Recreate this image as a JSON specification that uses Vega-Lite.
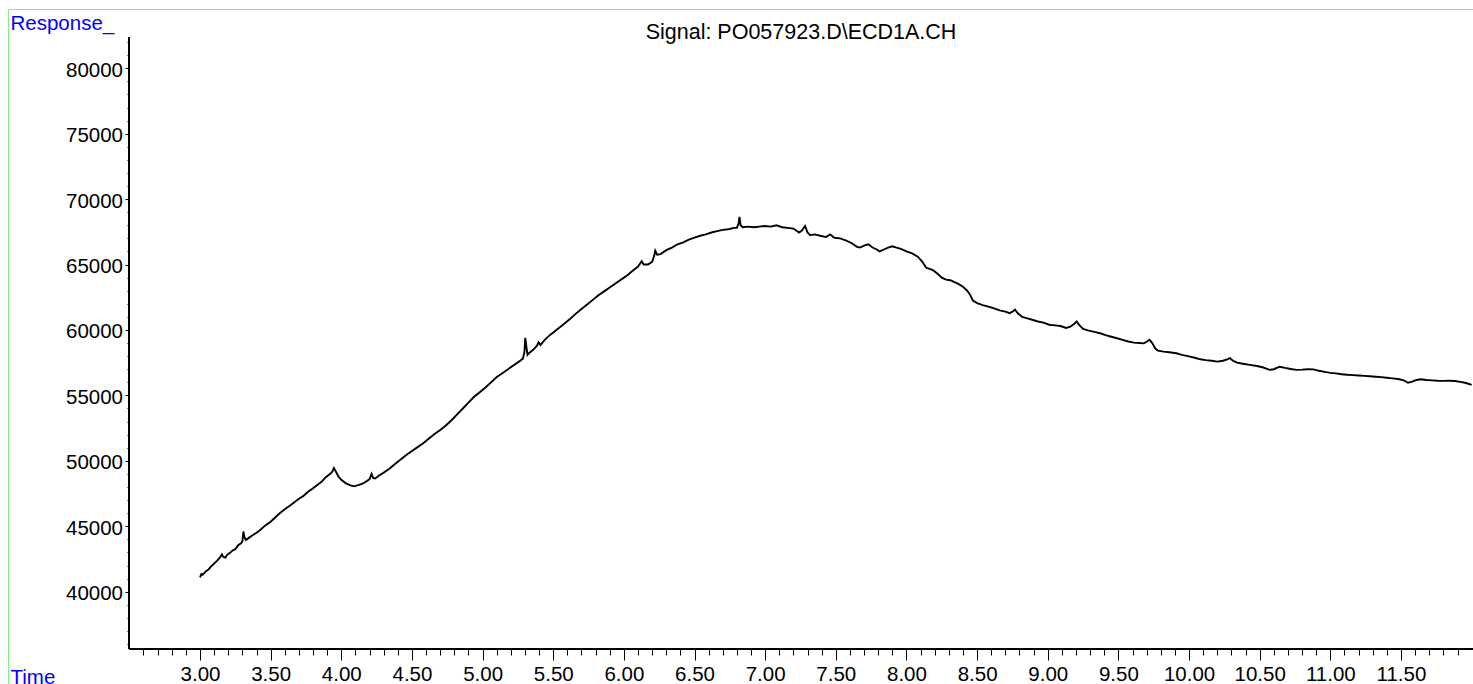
{
  "$schema": "https://vega.github.io/schema/vega-lite/v6.json",
  "width": 1465,
  "height": 675,
  "autosize": {"type": "none"},
  "padding": {"left": 8, "top": 9, "right": 0, "bottom": 0},
  "background": "white",
  "config": {
    "font": "Liberation Sans",
    "view": {"stroke": "#80ee80", "strokeWidth": 1}
  },
  "title": {
    "text": "Signal: PO057923.D\\ECD1A.CH",
    "fontSize": 21.5,
    "fontWeight": "normal",
    "color": "black",
    "anchor": "middle",
    "baseline": "alphabetic",
    "offset": -27,
    "dx": 60.5,
    "dy": 24
  },
  "data": {
    "values": [
      {"t":3.00,"r":41100},{"t":3.01,"r":41350},{"t":3.02,"r":41300},{"t":3.04,"r":41550},{"t":3.06,"r":41700},{"t":3.08,"r":41950},{"t":3.10,"r":42150},{"t":3.12,"r":42350},{"t":3.14,"r":42600},{"t":3.155,"r":42850},{"t":3.165,"r":42650},{"t":3.18,"r":42600},{"t":3.19,"r":42800},{"t":3.21,"r":42950},{"t":3.23,"r":43150},{"t":3.25,"r":43250},{"t":3.27,"r":43550},{"t":3.29,"r":43700},{"t":3.30,"r":43850},{"t":3.307,"r":44600},{"t":3.315,"r":44150},{"t":3.325,"r":43950},{"t":3.35,"r":44150},{"t":3.37,"r":44300},{"t":3.40,"r":44500},{"t":3.43,"r":44750},{"t":3.46,"r":45050},{"t":3.50,"r":45350},{"t":3.53,"r":45650},{"t":3.56,"r":45950},{"t":3.60,"r":46300},{"t":3.64,"r":46600},{"t":3.67,"r":46850},{"t":3.70,"r":47100},{"t":3.73,"r":47300},{"t":3.76,"r":47600},{"t":3.80,"r":47900},{"t":3.83,"r":48150},{"t":3.86,"r":48400},{"t":3.89,"r":48750},{"t":3.92,"r":49000},{"t":3.935,"r":49150},{"t":3.948,"r":49450},{"t":3.96,"r":49200},{"t":3.98,"r":48800},{"t":4.00,"r":48550},{"t":4.03,"r":48300},{"t":4.06,"r":48150},{"t":4.09,"r":48050},{"t":4.12,"r":48150},{"t":4.15,"r":48250},{"t":4.18,"r":48450},{"t":4.20,"r":48600},{"t":4.214,"r":49000},{"t":4.225,"r":48700},{"t":4.24,"r":48650},{"t":4.27,"r":48900},{"t":4.30,"r":49100},{"t":4.34,"r":49400},{"t":4.38,"r":49750},{"t":4.42,"r":50100},{"t":4.46,"r":50450},{"t":4.50,"r":50750},{"t":4.54,"r":51050},{"t":4.58,"r":51350},{"t":4.62,"r":51700},{"t":4.66,"r":52050},{"t":4.70,"r":52350},{"t":4.74,"r":52700},{"t":4.78,"r":53100},{"t":4.82,"r":53550},{"t":4.86,"r":54000},{"t":4.90,"r":54450},{"t":4.94,"r":54900},{"t":4.98,"r":55250},{"t":5.02,"r":55600},{"t":5.06,"r":56000},{"t":5.10,"r":56400},{"t":5.14,"r":56700},{"t":5.18,"r":57000},{"t":5.22,"r":57300},{"t":5.26,"r":57600},{"t":5.285,"r":57800},{"t":5.296,"r":58300},{"t":5.302,"r":59400},{"t":5.31,"r":58700},{"t":5.318,"r":58100},{"t":5.33,"r":58250},{"t":5.36,"r":58500},{"t":5.385,"r":58800},{"t":5.396,"r":59050},{"t":5.41,"r":58850},{"t":5.44,"r":59250},{"t":5.47,"r":59550},{"t":5.50,"r":59800},{"t":5.54,"r":60150},{"t":5.58,"r":60500},{"t":5.62,"r":60850},{"t":5.66,"r":61250},{"t":5.70,"r":61600},{"t":5.74,"r":61950},{"t":5.78,"r":62300},{"t":5.82,"r":62650},{"t":5.86,"r":62950},{"t":5.90,"r":63250},{"t":5.94,"r":63550},{"t":5.98,"r":63850},{"t":6.02,"r":64150},{"t":6.06,"r":64500},{"t":6.10,"r":64850},{"t":6.126,"r":65250},{"t":6.14,"r":65000},{"t":6.17,"r":65000},{"t":6.20,"r":65200},{"t":6.215,"r":65700},{"t":6.222,"r":66050},{"t":6.235,"r":65750},{"t":6.26,"r":65800},{"t":6.30,"r":66100},{"t":6.34,"r":66300},{"t":6.38,"r":66550},{"t":6.42,"r":66700},{"t":6.46,"r":66900},{"t":6.50,"r":67050},{"t":6.54,"r":67200},{"t":6.58,"r":67300},{"t":6.62,"r":67450},{"t":6.66,"r":67550},{"t":6.70,"r":67650},{"t":6.74,"r":67700},{"t":6.78,"r":67800},{"t":6.80,"r":67800},{"t":6.812,"r":68150},{"t":6.818,"r":68650},{"t":6.826,"r":68000},{"t":6.84,"r":67850},{"t":6.88,"r":67900},{"t":6.92,"r":67850},{"t":6.96,"r":67900},{"t":7.00,"r":67950},{"t":7.04,"r":67900},{"t":7.08,"r":68000},{"t":7.12,"r":67850},{"t":7.16,"r":67800},{"t":7.20,"r":67750},{"t":7.24,"r":67450},{"t":7.26,"r":67600},{"t":7.282,"r":67950},{"t":7.30,"r":67450},{"t":7.317,"r":67250},{"t":7.35,"r":67300},{"t":7.39,"r":67200},{"t":7.43,"r":67100},{"t":7.46,"r":67300},{"t":7.49,"r":67050},{"t":7.53,"r":67000},{"t":7.57,"r":66850},{"t":7.61,"r":66650},{"t":7.65,"r":66350},{"t":7.67,"r":66300},{"t":7.70,"r":66450},{"t":7.73,"r":66550},{"t":7.76,"r":66300},{"t":7.79,"r":66150},{"t":7.81,"r":66000},{"t":7.84,"r":66150},{"t":7.87,"r":66300},{"t":7.90,"r":66400},{"t":7.93,"r":66300},{"t":7.96,"r":66200},{"t":8.00,"r":66000},{"t":8.04,"r":65850},{"t":8.08,"r":65600},{"t":8.11,"r":65250},{"t":8.14,"r":64750},{"t":8.17,"r":64650},{"t":8.19,"r":64550},{"t":8.22,"r":64300},{"t":8.25,"r":64000},{"t":8.28,"r":63850},{"t":8.31,"r":63800},{"t":8.34,"r":63650},{"t":8.37,"r":63500},{"t":8.40,"r":63300},{"t":8.43,"r":63000},{"t":8.45,"r":62700},{"t":8.47,"r":62250},{"t":8.50,"r":62050},{"t":8.54,"r":61900},{"t":8.58,"r":61780},{"t":8.62,"r":61650},{"t":8.66,"r":61500},{"t":8.70,"r":61400},{"t":8.73,"r":61280},{"t":8.75,"r":61400},{"t":8.768,"r":61550},{"t":8.79,"r":61250},{"t":8.82,"r":61000},{"t":8.85,"r":60900},{"t":8.89,"r":60780},{"t":8.93,"r":60650},{"t":8.97,"r":60560},{"t":9.01,"r":60400},{"t":9.05,"r":60350},{"t":9.09,"r":60300},{"t":9.13,"r":60150},{"t":9.16,"r":60250},{"t":9.19,"r":60500},{"t":9.205,"r":60650},{"t":9.22,"r":60400},{"t":9.25,"r":60080},{"t":9.29,"r":59950},{"t":9.33,"r":59850},{"t":9.37,"r":59750},{"t":9.41,"r":59600},{"t":9.45,"r":59480},{"t":9.49,"r":59370},{"t":9.53,"r":59250},{"t":9.57,"r":59120},{"t":9.61,"r":59030},{"t":9.65,"r":59000},{"t":9.68,"r":58980},{"t":9.70,"r":59100},{"t":9.72,"r":59250},{"t":9.74,"r":59000},{"t":9.76,"r":58600},{"t":9.78,"r":58420},{"t":9.82,"r":58350},{"t":9.86,"r":58300},{"t":9.91,"r":58220},{"t":9.95,"r":58100},{"t":10.00,"r":57980},{"t":10.04,"r":57880},{"t":10.08,"r":57760},{"t":10.12,"r":57700},{"t":10.16,"r":57650},{"t":10.20,"r":57580},{"t":10.24,"r":57650},{"t":10.27,"r":57750},{"t":10.29,"r":57850},{"t":10.31,"r":57650},{"t":10.34,"r":57500},{"t":10.38,"r":57420},{"t":10.43,"r":57330},{"t":10.48,"r":57250},{"t":10.52,"r":57150},{"t":10.57,"r":56950},{"t":10.60,"r":57000},{"t":10.64,"r":57190},{"t":10.68,"r":57100},{"t":10.72,"r":57020},{"t":10.76,"r":56950},{"t":10.80,"r":56970},{"t":10.84,"r":57000},{"t":10.88,"r":56990},{"t":10.92,"r":56880},{"t":10.96,"r":56800},{"t":11.00,"r":56720},{"t":11.04,"r":56680},{"t":11.08,"r":56620},{"t":11.12,"r":56580},{"t":11.16,"r":56550},{"t":11.20,"r":56520},{"t":11.24,"r":56490},{"t":11.28,"r":56460},{"t":11.32,"r":56430},{"t":11.36,"r":56400},{"t":11.40,"r":56350},{"t":11.44,"r":56300},{"t":11.48,"r":56250},{"t":11.52,"r":56150},{"t":11.55,"r":55970},{"t":11.58,"r":56050},{"t":11.61,"r":56180},{"t":11.64,"r":56230},{"t":11.68,"r":56180},{"t":11.72,"r":56150},{"t":11.76,"r":56120},{"t":11.80,"r":56110},{"t":11.84,"r":56120},{"t":11.88,"r":56100},{"t":11.92,"r":56030},{"t":11.96,"r":55950},{"t":12.00,"r":55800}
    ]
  },
  "layer": [
    {
      "mark": {"type": "line", "color": "black", "strokeWidth": 1.9, "clip": true},
      "encoding": {
        "x": {
          "field": "t", "type": "quantitative",
          "scale": {"domain": [1.641, 12.0097], "nice": false, "zero": false},
          "axis": {
            "orient": "bottom", "offset": -35, "domain": false, "grid": false,
            "values": [3, 3.5, 4, 4.5, 5, 5.5, 6, 6.5, 7, 7.5, 8, 8.5, 9, 9.5, 10, 10.5, 11, 11.5],
            "format": ".2f",
            "tickSize": 11, "tickColor": "black", "tickWidth": 1,
            "labelFontSize": 20.5, "labelColor": "black", "labelPadding": 4.5, "labelFlush": false, "labelOverlap": false,
            "title": "Time", "titleColor": "blue", "titleFontSize": 20.5, "titleFontWeight": "normal",
            "titleAnchor": "start", "titleAlign": "left", "titleBaseline": "alphabetic",
            "titleX": 2, "titleY": 34
          }
        },
        "y": {
          "field": "r", "type": "quantitative",
          "scale": {"domain": [32947, 84528], "nice": false, "zero": false},
          "axis": {
            "orient": "left", "offset": -121, "domain": false, "grid": false,
            "values": [40000, 45000, 50000, 55000, 60000, 65000, 70000, 75000, 80000],
            "format": "d",
            "tickSize": 4, "tickColor": "black", "tickWidth": 1,
            "labelFontSize": 20.5, "labelColor": "black", "labelPadding": 2.5, "labelOffset": 2, "labelOverlap": false,
            "title": "Response_", "titleColor": "blue", "titleFontSize": 20.5, "titleFontWeight": "normal",
            "titleAngle": 0, "titleAlign": "left", "titleBaseline": "alphabetic",
            "titleX": -119, "titleY": 20
          }
        }
      }
    },
    {
      "mark": {"type": "rule", "color": "black", "strokeWidth": 1},
      "encoding": {
        "x": {
          "datum": 2.5, "type": "quantitative",
          "axis": {
            "orient": "bottom", "offset": -35, "domain": false, "grid": false, "labels": false, "title": null,
            "values": [2.6, 2.7, 2.8, 2.9, 3.0, 3.1, 3.2, 3.3, 3.4, 3.5, 3.6, 3.7, 3.8, 3.9, 4.0, 4.1, 4.2, 4.3, 4.4, 4.5, 4.6, 4.7, 4.8, 4.9, 5.0, 5.1, 5.2, 5.3, 5.4, 5.5, 5.6, 5.7, 5.8, 5.9, 6.0, 6.1, 6.2, 6.3, 6.4, 6.5, 6.6, 6.7, 6.8, 6.9, 7.0, 7.1, 7.2, 7.3, 7.4, 7.5, 7.6, 7.7, 7.8, 7.9, 8.0, 8.1, 8.2, 8.3, 8.4, 8.5, 8.6, 8.7, 8.8, 8.9, 9.0, 9.1, 9.2, 9.3, 9.4, 9.5, 9.6, 9.7, 9.8, 9.9, 10.0, 10.1, 10.2, 10.3, 10.4, 10.5, 10.6, 10.7, 10.8, 10.9, 11.0, 11.1, 11.2, 11.3, 11.4, 11.5, 11.6, 11.7, 11.8, 11.9],
            "tickSize": 6, "tickColor": "black", "tickWidth": 1
          }
        },
        "y": {
          "datum": 35621, "type": "quantitative",
          "axis": {
            "orient": "left", "offset": -121, "domain": false, "grid": false, "labels": false, "title": null,
            "values": [36000, 37000, 38000, 39000, 40000, 41000, 42000, 43000, 44000, 45000, 46000, 47000, 48000, 49000, 50000, 51000, 52000, 53000, 54000, 55000, 56000, 57000, 58000, 59000, 60000, 61000, 62000, 63000, 64000, 65000, 66000, 67000, 68000, 69000, 70000, 71000, 72000, 73000, 74000, 75000, 76000, 77000, 78000, 79000, 80000, 81000, 82000],
            "tickSize": 2, "tickColor": "black", "tickWidth": 1
          }
        },
        "y2": {"datum": 82352}
      }
    },
    {
      "mark": {"type": "rule", "color": "black", "strokeWidth": 1},
      "encoding": {
        "x": {"datum": 2.5, "type": "quantitative", "axis": null},
        "x2": {"datum": 12.0097},
        "y": {"datum": 35621, "type": "quantitative", "axis": null}
      }
    }
  ],
  "resolve": {"axis": {"x": "independent", "y": "independent"}}
}
